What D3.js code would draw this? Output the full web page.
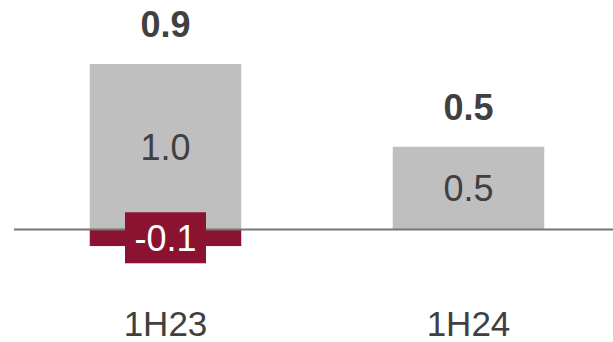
<!DOCTYPE html>
<html>
<head>
<meta charset="utf-8">
<script src="https://cdn.jsdelivr.net/npm/d3@7"></script>
<style>
  body { margin: 0; background: #fff; }
  svg { display: block; font-family: Arial, "Liberation Sans", sans-serif; }
</style>
</head>
<body>
<svg id="chart"></svg>
<script>
// chart values
const categories = ['1H23', '1H24'];
const positives = [1.0, 0.5];
const negatives = [-0.1, 0];
const totals = [0.9, 0.5];

const width = 613, height = 342;

const svg = d3.select('#chart')
    .attr('width', width)
    .attr('height', height);

const x = d3.scaleBand()
    .domain(categories)
    .range([14, 620])
    .paddingInner(0.5)
    .paddingOuter(0.25);

const y = d3.scaleLinear()
    .domain([0, 1])
    .range([229.5, 64]);

const data = categories.map((c, i) => ({
  cat: c, pos: positives[i], neg: negatives[i], total: totals[i]
}));

// gray positive bars
svg.selectAll('.pos')
    .data(data)
  .join('rect')
    .attr('class', 'pos')
    .attr('x', d => x(d.cat))
    .attr('width', x.bandwidth())
    .attr('y', d => y(d.pos))
    .attr('height', d => y(0) - y(d.pos))
    .attr('fill', '#bfbfbf');

// red negative bars
svg.selectAll('.neg')
    .data(data.filter(d => d.neg < 0))
  .join('rect')
    .attr('class', 'neg')
    .attr('x', d => x(d.cat))
    .attr('width', x.bandwidth())
    .attr('y', y(0))
    .attr('height', d => y(d.neg) - y(0))
    .attr('fill', '#8b1230');

// zero line
svg.append('line')
    .attr('x1', 14)
    .attr('x2', width)
    .attr('y1', y(0))
    .attr('y2', y(0))
    .attr('stroke', '#777777')
    .attr('stroke-width', 2);

// value labels inside gray bars
svg.selectAll('.pos-label')
    .data(data)
  .join('text')
    .attr('class', 'pos-label')
    .attr('x', d => x(d.cat) + x.bandwidth() / 2)
    .attr('y', d => (y(d.pos) + y(0)) / 2 + 13)
    .attr('text-anchor', 'middle')
    .attr('font-size', 36)
    .attr('fill', '#404040')
    .text(d => d.pos.toFixed(1));

// boxed labels for negative segments
const negG = svg.selectAll('.neg-label')
    .data(data.filter(d => d.neg < 0))
  .join('g')
    .attr('class', 'neg-label')
    .attr('transform', d => `translate(${x(d.cat) + x.bandwidth() / 2},${(y(d.neg) + y(0)) / 2})`);

negG.append('rect')
    .attr('x', -40.5)
    .attr('y', -25.5)
    .attr('width', 81)
    .attr('height', 51)
    .attr('fill', '#8b1230');

negG.append('text')
    .attr('y', 13)
    .attr('text-anchor', 'middle')
    .attr('font-size', 36)
    .attr('fill', '#fff')
    .text(d => d.neg.toFixed(1));

// bold totals above bars
svg.selectAll('.total')
    .data(data)
  .join('text')
    .attr('class', 'total')
    .attr('x', d => x(d.cat) + x.bandwidth() / 2)
    .attr('y', d => y(d.pos) - 27)
    .attr('text-anchor', 'middle')
    .attr('font-size', 36)
    .attr('font-weight', 'bold')
    .attr('fill', '#404040')
    .text(d => d.total.toFixed(1));

// category labels
svg.selectAll('.cat')
    .data(data)
  .join('text')
    .attr('class', 'cat')
    .attr('x', d => x(d.cat) + x.bandwidth() / 2)
    .attr('y', 336)
    .attr('text-anchor', 'middle')
    .attr('font-size', 35)
    .attr('fill', '#404040')
    .text(d => d.cat);
</script>
</body>
</html>
